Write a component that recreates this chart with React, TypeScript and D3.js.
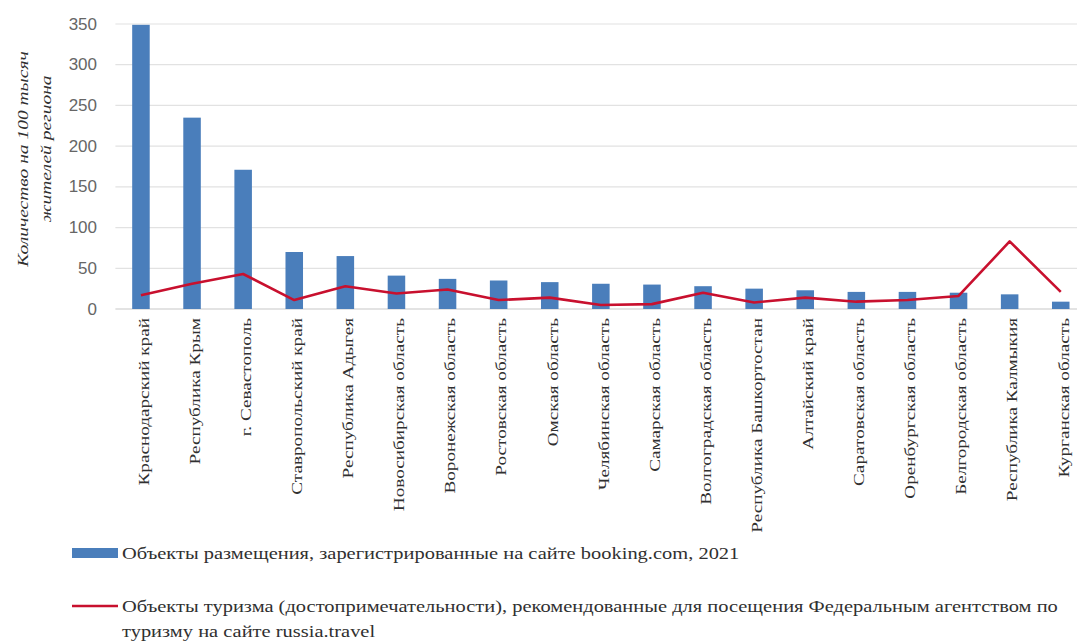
import React from "react";
import * as d3 from "d3";

// Regions, ordered by accommodation density
const regions: string[] = [
  "Краснодарский край",
  "Республика Крым",
  "г. Севастополь",
  "Ставропольский край",
  "Республика Адыгея",
  "Новосибирская область",
  "Воронежская область",
  "Ростовская область",
  "Омская область",
  "Челябинская область",
  "Самарская область",
  "Волгоградская область",
  "Республика Башкортостан",
  "Алтайский край",
  "Саратовская область",
  "Оренбургская область",
  "Белгородская область",
  "Республика Калмыкия",
  "Курганская область",
];

// Accommodation objects on booking.com, 2021 (per 100k residents)
const bookingObjects: number[] = [
  349, 235, 171, 70, 65, 41, 37, 35, 33, 31, 30, 28, 25, 23, 21, 21, 20, 18, 9,
];

// Tourist attractions recommended on russia.travel (per 100k residents)
const attractions: number[] = [
  17, 31, 43, 11, 28, 19, 24, 11, 14, 5, 6, 20, 8, 14, 9, 11, 16, 83, 21,
];

const yTicks: number[] = [0, 50, 100, 150, 200, 250, 300, 350];

const legendBars = "Объекты размещения, зарегистрированные на сайте booking.com, 2021";
const legendLine1 =
  "Объекты туризма (достопримечательности), рекомендованные для посещения Федеральным агентством по";
const legendLine2 = "туризму на сайте russia.travel";

const W = 1077;
const H = 642;
const plotLeft = 115.4;
const plotRight = 1086.3;
const plotTop = 24;
const plotBottom = 309;

const BAR_COLOR = "#4a7ebb";
const LINE_COLOR = "#c8102e";
const SERIF = "'Liberation Serif', 'Times New Roman', serif";
const SANS = "'Liberation Sans', Arial, sans-serif";
const TEXT = "#303030";

// Serif text with a horizontal stretch, as the chart's typeface is set wide
function WideText(props: {
  x: number;
  y: number;
  rotate?: number;
  stretch: number;
  size: number;
  anchor?: "start" | "middle" | "end";
  italic?: boolean;
  fill?: string;
  children: string;
}) {
  const { x, y, rotate = 0, stretch, size, anchor = "start", italic, fill = TEXT } = props;
  return (
    <text
      transform={`translate(${x},${y}) rotate(${rotate}) scale(${stretch},1)`}
      textAnchor={anchor}
      dominantBaseline="central"
      fontFamily={SERIF}
      fontStyle={italic ? "italic" : "normal"}
      fontSize={size}
      fill={fill}
    >
      {props.children}
    </text>
  );
}

export default function App() {
  const x = d3
    .scaleBand<string>()
    .domain(regions)
    .range([plotLeft, plotRight])
    .paddingInner(0.657)
    .paddingOuter(0.657 / 2);

  const y = d3.scaleLinear().domain([0, 350]).range([plotBottom, plotTop]);

  const cx = (r: string) => (x(r) as number) + x.bandwidth() / 2;

  const line = d3
    .line<number>()
    .x((_, i) => cx(regions[i]))
    .y((d) => y(d));

  return (
    <svg
      width={W}
      height={H}
      style={{ position: "absolute", left: 0, top: 0, background: "#fff" }}
    >
      {/* gridlines */}
      {yTicks.map((t) => (
        <line
          key={`g${t}`}
          x1={plotLeft}
          x2={plotRight}
          y1={y(t)}
          y2={y(t)}
          stroke={t === 0 ? "#c8c8c8" : "#e2e2e2"}
          strokeWidth={1.2}
        />
      ))}

      {/* y tick labels */}
      {yTicks.map((t) => (
        <text
          key={`t${t}`}
          x={97}
          y={y(t)}
          textAnchor="end"
          dominantBaseline="central"
          fontFamily={SANS}
          fontSize={17}
          fill="#666"
        >
          {t}
        </text>
      ))}

      {/* y axis title */}
      <WideText x={23} y={159} rotate={-90} stretch={1.3} size={15} anchor="middle" italic>
        Количество на 100 тысяч
      </WideText>
      <WideText x={46} y={149} rotate={-90} stretch={1.3} size={15} anchor="middle" italic>
        жителей региона
      </WideText>

      {/* bars */}
      {regions.map((r, i) => (
        <rect
          key={`b${r}`}
          x={x(r)}
          y={y(bookingObjects[i])}
          width={x.bandwidth()}
          height={y(0) - y(bookingObjects[i])}
          fill={BAR_COLOR}
        />
      ))}

      {/* attractions line */}
      <path
        d={line(attractions) || ""}
        fill="none"
        stroke={LINE_COLOR}
        strokeWidth={2.6}
        strokeLinejoin="round"
      />

      {/* category labels */}
      {regions.map((r) => (
        <WideText
          key={`l${r}`}
          x={cx(r) + 3}
          y={318}
          rotate={-90}
          stretch={1.28}
          size={15}
          anchor="end"
        >
          {r}
        </WideText>
      ))}

      {/* legend */}
      <rect x={72} y={548} width={46} height={10} fill={BAR_COLOR} />
      <WideText x={122} y={553} stretch={1.24} size={16.5}>
        {legendBars}
      </WideText>
      <line x1={72} x2={118} y1={606} y2={606} stroke={LINE_COLOR} strokeWidth={2.6} />
      <WideText x={122} y={606} stretch={1.24} size={16.5}>
        {legendLine1}
      </WideText>
      <WideText x={122} y={631} stretch={1.24} size={16.5}>
        {legendLine2}
      </WideText>
    </svg>
  );
}
